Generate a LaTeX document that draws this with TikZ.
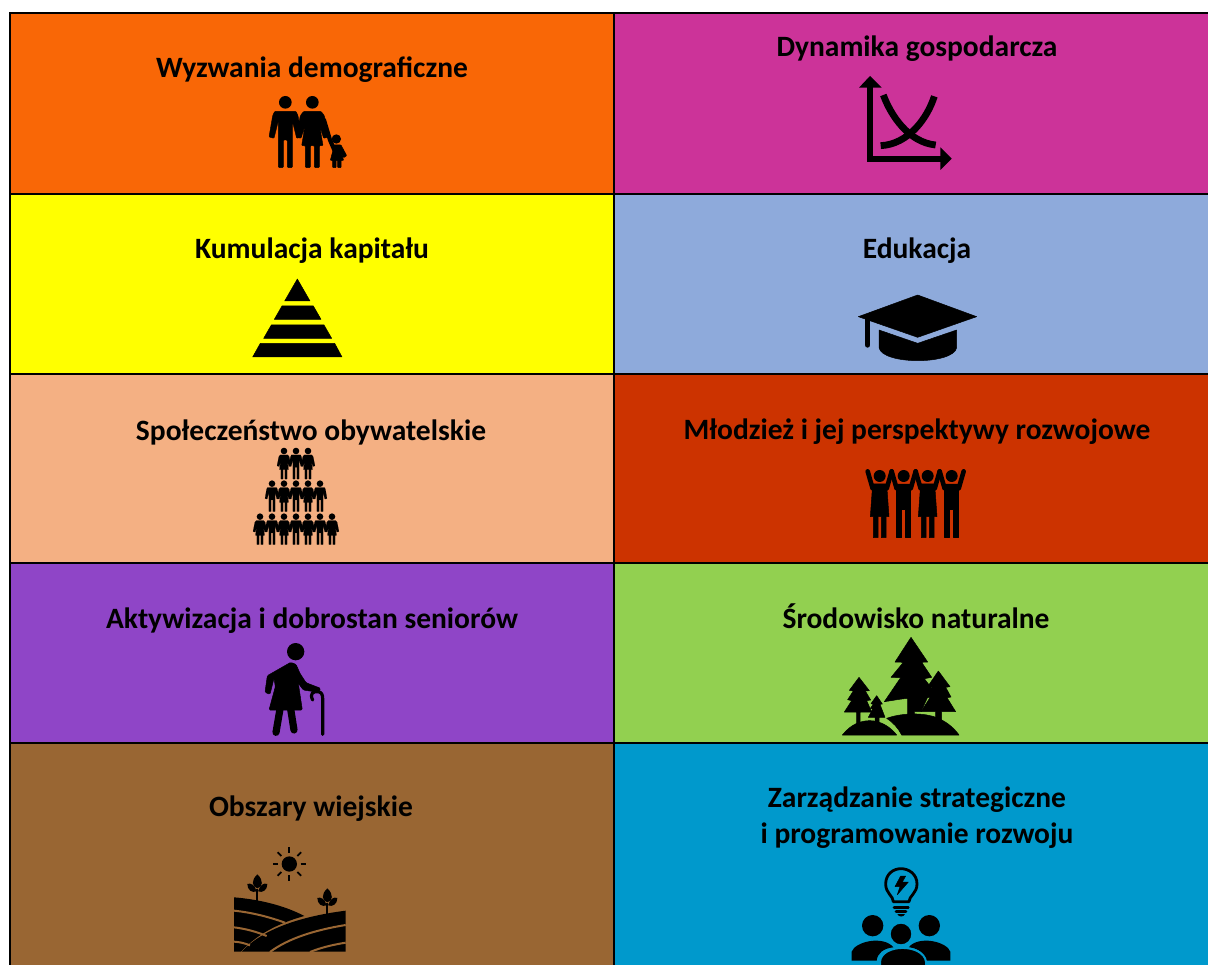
\documentclass[tikz,border=0pt]{standalone}
\usepackage{fontspec}
\setmainfont{Carlito}
\newcommand\rcval{.9pt}
\newcommand\lwval{.4pt}
\newcommand\mandraw{\path[ink,line width=\lwval,rounded corners=\rcval] (-32,27) -- (32,27) -- (38,40) -- (49,104) -- (34,108) -- (21,56) -- (21,196) -- (6,196) -- (6,113) -- (-6,113) -- (-6,196) -- (-21,196) -- (-21,56) -- (-34,108) -- (-49,104) -- (-38,40) -- cycle;}
\newcommand\womandraw{\path[ink,line width=\lwval,rounded corners=\rcval] (-26,27) -- (26,27) -- (36,40) -- (49,104) -- (34,108) -- (22,70) -- (32,130) -- (21,130) -- (21,196) -- (6,196) -- (6,130) -- (-6,130) -- (-6,196) -- (-21,196) -- (-21,130) -- (-32,130) -- (-22,70) -- (-34,108) -- (-49,104) -- (-36,40) -- cycle;}
\tikzset{
  x=1pt,y=-1pt,
  cell/.style={draw=black,line width=1.5pt},
  title/.style={font={\fontsize{29.5}{36}\selectfont\bfseries},text=black,inner sep=0pt,align=center},
  ink/.style={fill=black,draw=black,line width=.5pt,line join=round},
  stroke/.style={draw=black,line cap=round,line join=round},
  man/.pic={\fill (0,0) circle (19); \mandraw},
  woman/.pic={\fill (0,0) circle (19); \womandraw},
  sman/.pic={\renewcommand\rcval{.25pt}\renewcommand\lwval{.1pt}\fill (0,0) circle (23); \mandraw},
  swoman/.pic={\renewcommand\rcval{.25pt}\renewcommand\lwval{.1pt}\fill (0,0) circle (23); \womandraw},
  upman/.pic={
    \fill (0,0) circle (18);
    \draw[stroke,line width=4.6pt] (-36,-14) -- (-21,38) -- (21,38) -- (36,-14);
    \path[ink] (-21,24) -- (21,24) -- (21,185) -- (6,185) -- (6,100) -- (-6,100) -- (-6,185) -- (-21,185) -- cycle;
  },
  upwoman/.pic={
    \fill (0,0) circle (18);
    \draw[stroke,line width=4.6pt] (-36,-14) -- (-21,38) -- (21,38) -- (36,-14);
    \path[ink] (-21,24) -- (21,24) -- (28,122) -- (19,122) -- (19,185) -- (5,185) -- (5,122) -- (-5,122) -- (-5,185) -- (-19,185) -- (-19,122) -- (-28,122) -- cycle;
  },
  leaves/.pic={
    \draw[black,line width=1.8pt] (0,40) -- (0,0);
    \fill (0,-45) .. controls (-20,-26) and (-16,-8) .. (0,-3) .. controls (16,-8) and (20,-26) .. (0,-45) -- cycle;
    \fill (-2,6) .. controls (-8,-14) and (-20,-20) .. (-30,-16) .. controls (-30,2) and (-16,12) .. (-2,6) -- cycle;
    \fill (2,6) .. controls (8,-14) and (20,-20) .. (30,-16) .. controls (30,2) and (16,12) .. (2,6) -- cycle;
  },
}
\begin{document}
\begin{tikzpicture}
\useasboundingbox (0,0) rectangle (1208,965);
\fill[white] (0,0) rectangle (1208,965);
\begin{scope}
\clip (0,0) rectangle (1208,965);
\path[cell,fill={rgb,255:red,249;green,103;blue,6}] (10,13) rectangle (614,194);
\path[cell,fill={rgb,255:red,204;green,51;blue,153}] (614,13) rectangle (1220,194);
\path[cell,fill={rgb,255:red,255;green,255;blue,0}] (10,194) rectangle (614,374);
\path[cell,fill={rgb,255:red,142;green,170;blue,219}] (614,194) rectangle (1220,374);
\path[cell,fill={rgb,255:red,244;green,176;blue,131}] (10,374) rectangle (614,563);
\path[cell,fill={rgb,255:red,204;green,51;blue,0}] (614,374) rectangle (1220,563);
\path[cell,fill={rgb,255:red,143;green,69;blue,199}] (10,563) rectangle (614,743);
\path[cell,fill={rgb,255:red,146;green,208;blue,80}] (614,563) rectangle (1220,743);
\path[cell,fill={rgb,255:red,153;green,102;blue,51}] (10,743) rectangle (614,980);
\path[cell,fill={rgb,255:red,0;green,153;blue,204}] (614,743) rectangle (1220,980);
\end{scope}

\node[title,anchor=base] (t1) at (312,78) {Wyzwania demograficzne};
\node[title,anchor=base] (t2) at (917,57) {Dynamika gospodarcza};
\node[title,anchor=base] (t3) at (312,259) {Kumulacja kapitału};
\node[title,anchor=base] (t4) at (917,259) {Edukacja};
\node[title,anchor=base] (t5) at (311,441) {Społeczeństwo obywatelskie};
\node[title,anchor=base] (t6) at (917,440) {Młodzież i jej perspektywy rozwojowe};
\node[title,anchor=base] (t7) at (312,628) {Aktywizacja i dobrostan seniorów};
\node[title,anchor=base] (t8) at (916,628) {Środowisko naturalne};
\node[title,anchor=base] (t9) at (311,816) {Obszary wiejskie};
\node[title] (t10) at (917,818) {Zarządzanie strategiczne\\i programowanie rozwoju};

% family
\begin{scope}[shift={(240,85)},scale=1/3]
\pic[scale=1/3] at (136,52) {man};
\pic[scale=1/3] at (217,52) {woman};
\draw[stroke,line width=4.2pt] (252,105) -- (270,165) -- (283,195);
\fill (289,162) circle (14);
\path[ink,rounded corners=.6pt] (275,180) -- (303,180) -- (320,212) -- (311,218) -- (302,200) -- (311,226) -- (303,226) -- (303,248) -- (293,248) -- (293,226) -- (288,226) -- (288,248) -- (278,248) -- (278,226) -- (271,226) -- (279,196) -- cycle;
\end{scope}

% chart
\begin{scope}[shift={(840,65)},scale=1/3]
\draw[black,line width=6.8pt,miter limit=10] (90,60) -- (90,282) -- (305,282);
\fill (90,33) -- (125,68) -- (57,68) -- cycle;
\fill (335,281) -- (301,315) -- (301,247) -- cycle;
\draw[black,line width=6.8pt] (130,90) .. controls (152,150) and (205,232) .. (287,240);
\draw[black,line width=6.8pt] (283,94) .. controls (262,160) and (205,238) .. (122,242);
\end{scope}

% pyramid
\begin{scope}[shift={(240,270)},scale=1/3]
\path[ink] (172,27) -- (210,93) -- (134,93) -- cycle;
\path[ink] (126,108) -- (220,108) -- (243,148) -- (103,148) -- cycle;
\path[ink] (94,165) -- (252,165) -- (275,205) -- (71,205) -- cycle;
\path[ink] (61,220) -- (284,220) -- (306,261) -- (38,261) -- cycle;
\end{scope}

% mortarboard
\begin{scope}[shift={(845,285)},scale=1/3]
\path[ink] (218,30) -- (395,95) -- (218,157) -- (40,95) -- cycle;
\draw[stroke,line width=5.4pt] (68,100) -- (68,180);
\path[ink] (102,135) -- (218,175) -- (335,135) -- (335,188) .. controls (325,240) and (112,240) .. (102,188) -- cycle;
\end{scope}

% crowd
\begin{scope}[shift={(240,440)},scale=1/3]
\foreach \px/\py/\pk in {132/33/swoman,168/33/sman,204/33/swoman,
  96/131/sman,132/131/swoman,168/131/sman,204/131/swoman,240/131/sman,
  60/230/swoman,96/230/sman,132/230/swoman,168/230/sman,204/230/swoman,240/230/sman,276/230/swoman}
  {\pic[scale=.143] at (\px,\py) {\pk};}
\end{scope}

% youth
\begin{scope}[shift={(855,460)},scale=1/3]
\pic[scale=1/3] at (74,48) {upwoman};
\pic[scale=1/3] at (146,48) {upman};
\pic[scale=1/3] at (218,48) {upwoman};
\pic[scale=1/3] at (290,48) {upman};
\end{scope}

% senior
\begin{scope}[shift={(250,635)},scale=1/3]
\fill (137,50) circle (26);
\path[ink,rounded corners=1.2pt] (122,82) -- (138,88) -- (150,115) -- (168,143) -- (212,160) -- (205,172) -- (160,165) -- (145,145) -- (157,225) -- (57,225) -- (76,155) -- (72,130) -- (60,178) -- (45,172) -- (52,122) -- cycle;
\draw[stroke,line width=7.2pt] (90,222) -- (78,292);
\draw[stroke,line width=7.2pt] (122,222) -- (132,285);
\draw[stroke,line width=3.2pt] (188,195) .. controls (178,175) and (190,168) .. (205,170) .. controls (215,172) and (218,180) .. (218,190) -- (218,298);
\end{scope}

% trees
\begin{scope}[shift={(835,630)},scale=1/3]
\path[ink] (228,22) -- (278,96) -- (260,97) -- (290,142) -- (268,146) -- (290,175) -- (258,245) -- (238,245) -- (238,255) -- (218,255) -- (218,205) .. controls (195,207) and (170,212) .. (148,215) -- (197,143) -- (168,142) -- (205,97) -- (180,96) -- cycle;
\path[ink] (310,123) -- (345,170) -- (332,172) -- (348,201) -- (336,203) -- (362,245) -- (320,245) -- (320,275) -- (302,275) -- (302,245) -- (258,245) -- (285,203) -- (272,201) -- (292,172) -- (278,170) -- cycle;
\path[ink] (155,265) .. controls (195,250) and (265,245) .. (310,265) .. controls (340,278) and (360,298) .. (372,315) -- (200,315) .. controls (190,295) and (175,278) .. (155,265) -- cycle;
\path[ink] (22,315) .. controls (50,280) and (80,272) .. (105,272) .. controls (140,272) and (170,295) .. (185,315) -- cycle;
\path[ink] (72,142) -- (103,182) -- (91,183) -- (107,210) -- (95,212) -- (110,246) -- (75,246) -- (75,282) -- (65,282) -- (65,246) -- (28,246) -- (50,212) -- (38,209) -- (55,183) -- (43,181) -- cycle;
\path[ink] (125,197) -- (142,222) -- (135,223) -- (150,262) -- (132,262) -- (132,276) -- (120,276) -- (120,262) -- (100,262) -- (113,237) -- (106,235) -- (115,223) -- (108,221) -- cycle;
\end{scope}

% countryside
\begin{scope}[shift={(225,840)},scale=1/3]
\fill (193,72) circle (23);
\foreach \a in {0,45,...,315}
  \draw[black,line width=1.8pt] (193,72) ++(\a:34) -- ++(\a:16);
\pic[scale=1/3] at (97,148) {leaves};
\pic[scale=1/3] at (307,190) {leaves};
\fill (27,172) .. controls (100,178) and (175,195) .. (238,228) .. controls (140,255) and (85,295) .. (48,335) -- (27,335) -- cycle;
\fill (50,335) .. controls (110,270) and (220,230) .. (362,212) -- (362,335) -- cycle;
\definecolor{fieldgap}{RGB}{153,102,51}
\draw[fieldgap,line width=2pt] (27,212) .. controls (85,218) and (135,232) .. (180,248);
\draw[fieldgap,line width=2pt] (27,262) .. controls (60,266) and (95,275) .. (125,288);
\draw[fieldgap,line width=2pt] (27,305) .. controls (45,306) and (60,310) .. (75,316);
\draw[fieldgap,line width=2pt] (135,336) .. controls (190,295) and (270,270) .. (362,255);
\draw[fieldgap,line width=2pt] (255,336) .. controls (290,322) and (325,314) .. (362,308);
\end{scope}

% bulb and people
\begin{scope}[shift={(840,860)},scale=1/3]
\definecolor{blueback}{RGB}{0,153,204}
\draw[stroke,line width=2.8pt] (160,125) .. controls (160,108) and (137,100) .. (137,72) .. controls (137,42) and (160,26) .. (183,26) .. controls (206,26) and (231,42) .. (231,72) .. controls (231,100) and (207,108) .. (207,125) -- cycle;
\path[ink] (182,48) -- (165,80) -- (180,80) -- (172,104) -- (205,66) -- (187,66) -- (197,48) -- cycle;
\draw[black,line width=2.6pt,line cap=round] (162,143) -- (205,143);
\draw[black,line width=2.6pt,line cap=round] (168,155) -- (198,155);
\fill (172,162) -- (195,162) .. controls (192,172) and (175,172) .. (172,162) -- cycle;
\fill (98,197) circle (32);
\fill (268,197) circle (32);
\fill (35,302) -- (35,275) .. controls (45,245) and (130,225) .. (160,262) .. controls (130,265) and (112,280) .. (110,302) -- cycle;
\fill (331,302) -- (331,275) .. controls (321,245) and (236,225) .. (206,262) .. controls (236,265) and (254,280) .. (256,302) -- cycle;
\path[fill=black,draw=blueback,line width=2pt] (183,222) circle (34);
\path[fill=black,draw=blueback,line width=2pt] (120,320) -- (120,305) .. controls (125,250) and (250,250) .. (258,305) -- (258,320) -- cycle;
\end{scope}
\end{tikzpicture}
\end{document}
